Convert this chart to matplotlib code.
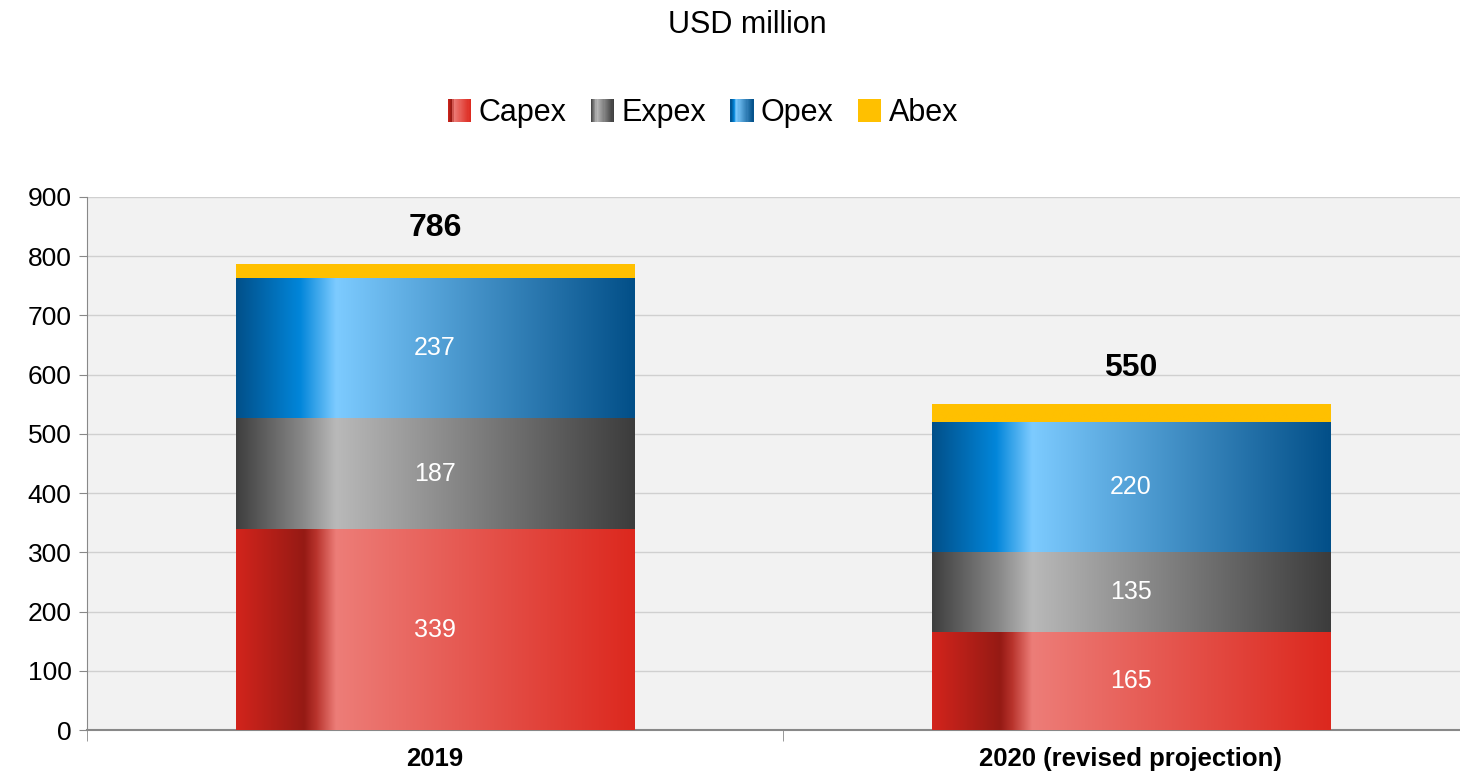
import numpy as np
import matplotlib.pyplot as plt
from matplotlib.colors import LinearSegmentedColormap
from matplotlib.legend_handler import HandlerBase
from matplotlib.patches import Rectangle, Patch

plt.rcParams['font.family'] = ['Liberation Sans', 'DejaVu Sans']

# data
categories = ['2019', '2020 (revised projection)']
series = ['Capex', 'Expex', 'Opex', 'Abex']
capex = [339, 165]
expex = [187, 135]
opex = [237, 220]
abex = [23, 30]
totals = [786, 550]
yticks = [0, 100, 200, 300, 400, 500, 600, 700, 800, 900]

# horizontal gradient stops (position, colour) for each series
grad = {
    'Capex': [(0.0, '#d2241c'), (0.17, '#951a14'), (0.20, '#b8332c'), (0.25, '#ed7d78'), (1.0, '#dc281e')],
    'Expex': [(0.0, '#3f3f3f'), (0.17, '#8a8a8a'), (0.25, '#b9b9b9'), (1.0, '#3c3c3c')],
    'Opex': [(0.0, '#01508a'), (0.16, '#0286da'), (0.25, '#7dcbff'), (1.0, '#024f88')],
    'Abex': [(0.0, '#ffc000'), (1.0, '#ffc000')],
}
cmaps = {k: LinearSegmentedColormap.from_list(k, v) for k, v in grad.items()}

fig = plt.figure(figsize=(14.6, 7.76), dpi=100)
ax = fig.add_axes([87 / 1460, 1 - 730 / 776, (1460 - 87) / 1460, (730 - 197) / 776])
ax.set_facecolor('#f2f2f2')

x = np.arange(len(categories))
width = 0.572
vals = [capex, expex, opex, abex]
bottom = np.zeros(len(categories))
xs = np.linspace(0, 1, 256).reshape(1, -1)
for name, v in zip(series, vals):
    bars = ax.bar(x, v, width, bottom=bottom, color='none', zorder=3)
    for b in bars:
        x0, y0 = b.get_x(), b.get_y()
        ax.imshow(xs, cmap=cmaps[name], aspect='auto', interpolation='bilinear',
                  extent=[x0, x0 + b.get_width(), y0, y0 + b.get_height()], zorder=3)
    if name != 'Abex':
        for xi, bi, vi in zip(x, bottom, v):
            ax.text(xi, bi + vi / 2, str(vi), ha='center', va='center', color='white',
                    fontsize=18, zorder=5)
    bottom = bottom + np.array(v)

for xi, t in zip(x, totals):
    ax.text(xi, t + 62, str(t), ha='center', va='center', fontsize=23, fontweight='bold', zorder=5)

ax.set_yticks(yticks)
ax.tick_params(axis='y', labelsize=19, length=6, color='#888888', pad=5)
ax.yaxis.grid(True, color='#d0d0d0', linewidth=1, zorder=0)
ax.set_axisbelow(True)
ax.set_xticks(x)
ax.set_xticklabels(categories, fontsize=18.5, fontweight='bold')
ax.tick_params(axis='x', length=0, pad=12)
ax.set_xticks([-0.5, 0.5, 1.5], minor=True)
ax.tick_params(axis='x', which='minor', length=8, color='#888888')
# limits after the ticks, or the 1.5 tick widens the view
ax.set_xlim(-0.5, 1.473)
ax.set_ylim(0, 900)
for s in ['top', 'right']:
    ax.spines[s].set_visible(False)
ax.spines['left'].set_color('#888888')
ax.spines['bottom'].set_color('#888888')
ax.spines['bottom'].set_linewidth(1.5)


class GradHandler(HandlerBase):
    def create_artists(self, legend, orig_handle, xdescent, ydescent, width, height, fontsize, trans):
        cm = cmaps[orig_handle.get_label()]
        n = 20
        arts = []
        for i in range(n):
            r = Rectangle((-xdescent + width * i / n, -ydescent), width / n + 0.3, height,
                          facecolor=cm((i + 0.5) / n), edgecolor='none', transform=trans)
            arts.append(r)
        return arts


handles = [Patch(label=s) for s in series]
fig.legend(handles=handles, labels=series, loc='center', bbox_to_anchor=(703 / 1460, 1 - 113 / 776),
           ncol=4, frameon=False, fontsize=22, handlelength=0.75, handleheight=0.75,
           handletextpad=0.25, columnspacing=0.8,
           handler_map={Patch: GradHandler()})

fig.text(747 / 1460, 1 - 25 / 776, 'USD million', ha='center', va='center', fontsize=22)

fig.savefig('out.png', dpi=100)
